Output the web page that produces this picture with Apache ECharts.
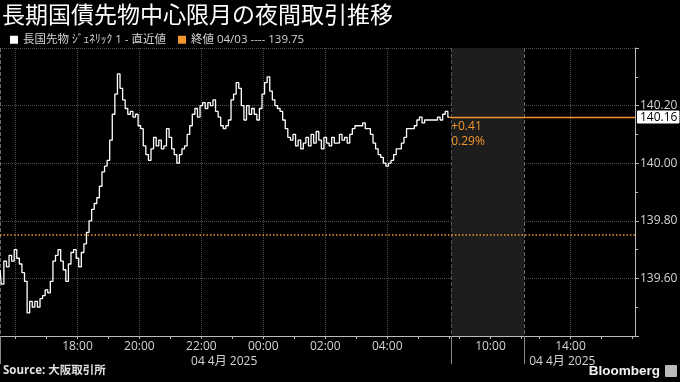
<!DOCTYPE html>
<html><head><meta charset="utf-8">
<script src="https://cdn.jsdelivr.net/npm/echarts@6/dist/echarts.min.js"></script>
<style>html,body{margin:0;padding:0;background:#000}#c{width:680px;height:382px}</style>
</head><body><div id="c"></div>
<script>
const titleText = '長期国債先物中心限月の夜間取引推移';
const seriesName = '長国先物 ｼﾞｪﾈﾘｯｸ 1 - 直近値';
const prevCloseDate = '04/03';
const prevClose = 139.75;
const sourceText = 'Source: 大阪取引所';
const brandText = 'Bloomberg';

// trading sessions (5-minute slots), gaps compressed as on the original axis
const sessions = [['15:30', '06:00'], ['08:45', '11:00'], ['12:30', '16:05']];

// night session prices, 5-minute steps from 15:30 to 06:00
const priceNight = [
  139.63,139.58,139.66,139.64,139.68,139.66,139.70,139.67,139.65,139.62,
  139.59,139.48,139.52,139.50,139.52,139.50,139.53,139.54,139.56,139.55,
  139.59,139.66,139.68,139.70,139.66,139.63,139.59,139.65,139.69,139.70,
  139.67,139.64,139.69,139.72,139.76,139.80,139.84,139.86,139.88,139.92,
  139.97,139.99,140.01,140.08,140.17,140.24,140.31,140.26,140.22,140.19,
  140.17,140.18,140.16,140.17,140.13,140.12,140.06,140.03,140.01,140.05,
  140.09,140.06,140.08,140.05,140.06,140.12,140.09,140.05,140.03,140.00,
  140.03,140.05,140.06,140.10,140.13,140.17,140.19,140.16,140.20,140.21,
  140.19,140.21,140.20,140.22,140.18,140.16,140.13,140.12,140.13,140.15,
  140.22,140.24,140.28,140.26,140.20,140.15,140.20,140.17,140.19,140.17,
  140.15,140.19,140.24,140.28,140.30,140.25,140.22,140.20,140.19,140.18,
  140.15,140.12,140.09,140.08,140.10,140.06,140.08,140.05,140.07,140.09,
  140.06,140.10,140.07,140.11,140.08,140.05,140.09,140.07,140.06,140.09,
  140.07,140.07,140.10,140.08,140.09,140.07,140.10,140.12,140.13,140.13,
  140.13,140.14,140.12,140.12,140.10,140.07,140.05,140.03,140.02,140.00,
  139.99,140.00,140.01,140.03,140.05,140.05,140.07,140.09,140.12,140.12,
  140.12,140.13,140.15,140.16,140.14,140.15,140.15,140.15,140.15,140.15,
  140.16,140.15,140.17,140.18,140.16
];

const xLabelTimes = ['18:00','20:00','22:00','00:00','02:00','04:00','10:00','14:00'];
const xGridTimes = ['16:00','18:00','20:00','22:00','00:00','02:00','04:00','10:00','14:00'];
const sessionBreakTimes = ['15:30','08:45','12:30'];
const dateLabelTimes = ['21:40','12:40'];
const dateLabelText = '04 4月 2025';
const yMin = 139.4, yMax = 140.4, yInterval = 0.2;

// build category slots
function toMin(s){const p=s.split(':');return (+p[0])*60+(+p[1]);}
function fmt(m){m=((m%1440)+1440)%1440;const h=Math.floor(m/60),mm=m%60;return String(h).padStart(2,'0')+':'+String(mm).padStart(2,'0');}
const cats = [];
sessions.forEach(([a,b])=>{let s=toMin(a),e=toMin(b);if(e<s)e+=1440;for(let m=s;m<=e;m+=5)cats.push(fmt(m));});
const idxOf = t => cats.indexOf(t);
const labelIdx = new Set(xLabelTimes.map(idxOf));
const gridIdx = new Set(xGridTimes.map(idxOf));
const breakIdx = new Set(sessionBreakTimes.map(idxOf));
const dateIdx = new Set(dateLabelTimes.map(idxOf));
const hourIdx = new Set(cats.map((c,i)=>c.endsWith(':00')?i:-1).filter(i=>i>=0));

const lastIdx = priceNight.length - 1;
const lastVal = priceNight[lastIdx];
const change = lastVal - prevClose;
const changeText = (change>=0?'+':'') + change.toFixed(2);
const pctText = (change/prevClose*100).toFixed(2) + '%';
const prevCloseName = '終値 ' + prevCloseDate + ' ---- ' + prevClose.toFixed(2);

const orange = '#f0962a';
const textColor = '#d4d4d4';
const gridColor = '#505050';
const font = "'Open Sans','Noto Sans CJK JP',sans-serif";

const chart = echarts.init(document.getElementById('c'), null, {renderer:'canvas'});
chart.setOption({
  backgroundColor: '#000',
  animation: false,
  textStyle: {fontFamily: font},
  title: [
    {text: titleText, left: 2, top: 3, padding: 0, textStyle: {color:'#fff', fontSize:23, fontWeight:'normal', fontFamily:"'Noto Sans CJK JP'"}},
    {text: sourceText, left: 3, top: 365, padding: 0, textStyle: {color:'#e0e0e0', fontSize:11.5, fontWeight:'bold', fontFamily:font}},
    {text: brandText, right: 20, top: 364, padding: 0, textStyle: {color:'#f0f0f0', fontSize:13.5, fontWeight:'bold', fontFamily:"'Liberation Sans',sans-serif"}}
  ],
  graphic: [
    {type:'rect', right: 3, top: 365, shape:{width:12, height:12, r:1}, style:{fill:'#bbb'}}
  ],
  legend: {
    left: 10, top: 34, padding: 0, itemWidth: 8, itemHeight: 8, itemGap: 12, icon: 'rect',
    textStyle: {color: textColor, fontSize: 11.5, fontFamily: font},
    data: [seriesName, prevCloseName]
  },
  grid: {left: 0, right: 45, top: 48, bottom: 46, outerBoundsMode: 'none'},
  xAxis: [
    {
      type: 'category', data: cats, boundaryGap: false, position: 'bottom',
      axisLine: {lineStyle: {color: '#bbb', width: 1}},
      axisTick: {show: true, interval: i => hourIdx.has(i), length: 3, lineStyle: {color: '#bbb'}},
      axisLabel: {interval: i => labelIdx.has(i), color: textColor, fontSize: 12, margin: 5, fontFamily: font},
      splitLine: {show: true, interval: i => gridIdx.has(i), lineStyle: {color: gridColor, type: 'dotted'}}
    },
    {
      type: 'category', data: cats, boundaryGap: false, position: 'bottom', offset: 15,
      axisLine: {show: false}, axisTick: {show: false}, splitLine: {show: false},
      axisLabel: {interval: i => dateIdx.has(i), formatter: () => dateLabelText, align: 'left', color: textColor, fontSize: 12, margin: 5, fontFamily: font}
    },
    {
      type: 'category', data: cats, boundaryGap: false, position: 'bottom',
      axisLine: {show: false}, axisLabel: {show: false},
      axisTick: {show: true, interval: i => breakIdx.has(i), length: 28, lineStyle: {color: '#888'}},
      splitLine: {show: true, interval: i => breakIdx.has(i), lineStyle: {color: '#6a6a6a', type: 'dashed'}}
    }
  ],
  yAxis: {
    type: 'value', position: 'right', min: yMin, max: yMax, interval: yInterval,
    axisLine: {show: true, lineStyle: {color: '#bbb'}},
    axisTick: {show: true, length: 4, lineStyle: {color: '#bbb'}},
    minorTick: {show: true, splitNumber: 2, length: 3, lineStyle: {color: '#bbb'}},
    axisLabel: {color: textColor, fontSize: 12, margin: 5, showMinLabel: false, showMaxLabel: false,
      formatter: v => v.toFixed(2), fontFamily: font},
    splitLine: {show: true, lineStyle: {color: gridColor, type: 'dotted'}},
    axisPointer: {
      show: true, value: lastVal, status: 'show', triggerTooltip: false,
      lineStyle: {opacity: 0},
      label: {show: true, formatter: p => Number(p.value).toFixed(2), color: '#000', backgroundColor: '#fff',
        padding: [1, 2, 0, 3], fontSize: 12, margin: 2, fontFamily: font, borderRadius: 1}
    }
  },
  series: [
    {
      name: seriesName, type: 'line', data: priceNight, showSymbol: false, step: 'middle', clip: false,
      itemStyle: {color: '#fff'}, lineStyle: {color: '#fff', width: 1.3}, z: 5,
      markArea: {silent: true, itemStyle: {color: '#1d1d1d'},
        data: [[{xAxis: idxOf('08:45')}, {xAxis: idxOf('12:30')}]]}
    },
    {
      name: prevCloseName, type: 'line', data: [], clip: false, z: 4,
      itemStyle: {color: orange}, lineStyle: {color: orange},
      markLine: {
        silent: true, symbol: ['none', 'none'], animation: false,
        itemStyle: {color: orange},
        lineStyle: {color: orange, width: 1, type: 'solid', opacity: 1},
        emphasis: {disabled: true},
        label: {show: false},
        data: [
          {yAxis: prevClose, lineStyle: {color: orange, type: [1.5, 2], width: 1.5}, label: {show: false}},
          [
            {coord: [lastIdx, lastVal], lineStyle: {color: orange, type: 'solid', width: 1.4},
              label: {show: true, position: 'insideStartBottom', formatter: changeText + '\n' + pctText,
                color: orange, fontSize: 12, lineHeight: 15, distance: 2, fontFamily: font}},
            {coord: [cats.length - 1, lastVal]}
          ]
        ]
      }
    }
  ]
});
</script>
</body></html>
